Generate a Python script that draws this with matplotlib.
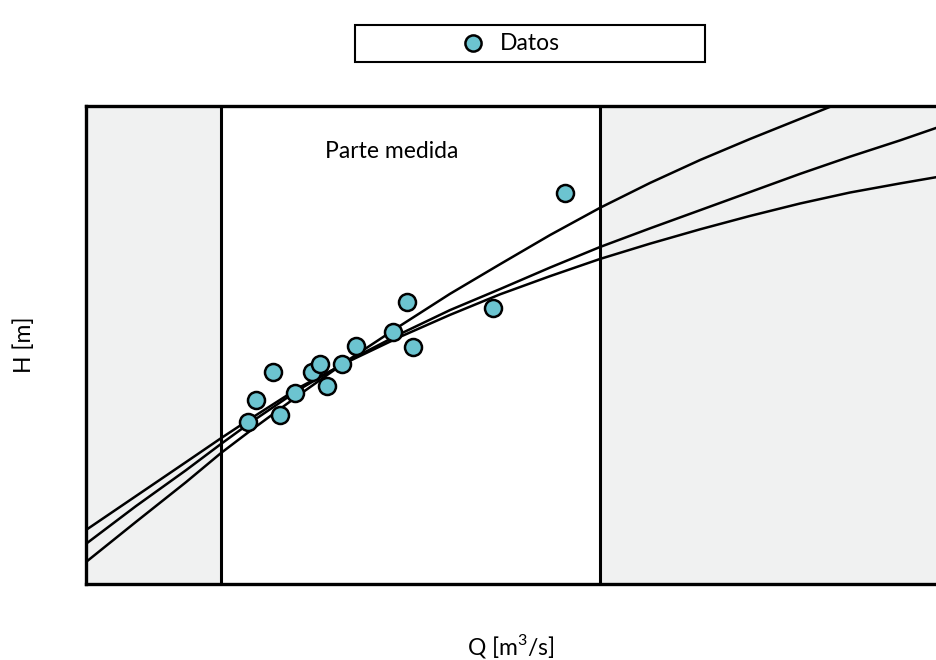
import matplotlib
matplotlib.use("Agg")
import matplotlib.pyplot as plt
from matplotlib.patches import Rectangle

plt.rcParams['font.family'] = ['Lato', 'DejaVu Sans']

# measured points (Q, H)
q_datos = [19.1, 20.0, 22.0, 22.8, 24.6, 26.6, 27.5, 28.4, 30.1, 31.8, 36.1, 37.8, 38.5, 47.9, 56.4]
h_datos = [3.39, 3.85, 4.44, 3.54, 4.00, 4.44, 4.60, 4.14, 4.60, 4.98, 5.27, 5.90, 4.96, 5.77, 8.18]

# three fitted rating curves
q_curva = [0, 5.88, 11.76, 15.88, 19.29, 25.18, 31.06, 36.94, 42.82, 48.71,
           54.59, 60.47, 66.35, 72.24, 78.12, 84.0, 89.88, 95.76, 100]
h_curva_a = [0.46, 1.30, 2.13, 2.74, 3.20, 3.97, 4.71, 5.40, 6.07, 6.69,
             7.30, 7.87, 8.39, 8.87, 9.31, 9.73, 10.15]
h_curva_b = [0.84, 1.63, 2.38, 2.93, 3.37, 4.08, 4.69, 5.23, 5.73, 6.17,
             6.62, 7.05, 7.44, 7.82, 8.20, 8.58, 8.94, 9.28, 9.54]
h_curva_c = [1.13, 1.84, 2.55, 3.05, 3.45, 4.12, 4.67, 5.17, 5.63, 6.06,
             6.44, 6.80, 7.12, 7.42, 7.70, 7.96, 8.19, 8.38, 8.51]

# limits of the measured range
q_min_medido = 15.9
q_max_medido = 60.5

fig = plt.figure(figsize=(9.36, 6.6), dpi=100)
ax = fig.add_axes([86/936, 76/660, 850/936, 478/660])
ax.set_xlim(0, 100)
ax.set_ylim(0, 10)

# grey zones outside measured range
ax.axvspan(0, q_min_medido, color='#f0f1f1', zorder=0)
ax.axvspan(q_max_medido, 100, color='#f0f1f1', zorder=0)
ax.axvline(q_min_medido, color='black', lw=2.2, zorder=1)
ax.axvline(q_max_medido, color='black', lw=2.2, zorder=1)

ax.plot(q_curva[:len(h_curva_a)], h_curva_a, 'k-', lw=1.8, zorder=2)
ax.plot(q_curva, h_curva_b, 'k-', lw=1.8, zorder=2)
ax.plot(q_curva, h_curva_c, 'k-', lw=1.8, zorder=2)

ax.scatter(q_datos, h_datos, s=150, c='#6cc4d0', edgecolors='black',
           linewidths=1.8, zorder=3, label='Datos')

ax.text(36.0, 9.04, 'Parte medida', ha='center', va='center', fontsize=16.5)

ax.set_xticks([])
ax.set_yticks([])
for s in ['left', 'bottom', 'top']:
    ax.spines[s].set_linewidth(2.4)
ax.spines['right'].set_visible(False)

ax.set_xlabel('Q [m$^\\mathregular{3}$/s]', fontsize=16.5)
ax.xaxis.set_label_coords(0.5, -0.1)
ax.set_ylabel('H [m]', fontsize=16.5)
ax.yaxis.set_label_coords(-0.06, 0.5)

# legend box at the top
fig.patches.append(Rectangle((355/936, 1 - 62/660), 350/936, 37/660,
                             transform=fig.transFigure, fill=False,
                             ec='black', lw=1.5))
fig.legend(loc='center', bbox_to_anchor=(505/936, 1 - 43/660), frameon=False,
           fontsize=16.5, handletextpad=0.2, markerscale=0.95)

fig.savefig('out.png', dpi=100)
